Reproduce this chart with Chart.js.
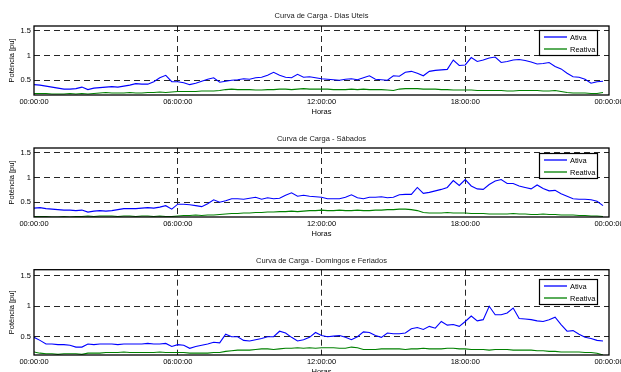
<!DOCTYPE html>
<html><head><meta charset="utf-8">
<script src="https://cdn.jsdelivr.net/npm/chart.js@4.4.1/dist/chart.umd.min.js"></script>
<style>
html,body{margin:0;padding:0;background:#fff;overflow:hidden;width:621px;height:372px;}
canvas{position:absolute;left:0;}
</style></head><body>
<canvas id="c1" width="621" height="120" style="top:0px"></canvas>
<canvas id="c2" width="621" height="122" style="top:120px"></canvas>
<canvas id="c3" width="621" height="135" style="top:245px"></canvas>
<script>
// sampling grid: 15-minute steps, in hours
const hours = Array.from({length: 96}, (_, i) => i / 4);
const xTicks = [0, 6, 12, 18, 24];
const xTickLabels = ['00:00:00', '06:00:00', '12:00:00', '18:00:00', '00:00:00'];
const yTicks = [0.5, 1, 1.5];
const titles = ['Curva de Carga - Dias Uteis', 'Curva de Carga - Sábados', 'Curva de Carga - Domingos e Feriados'];
const seriesNames = ['Ativa', 'Reativa'];
const seriesColors = ['#0000ff', '#008000'];

const ativaUteis = [
0.41,0.40,0.38,0.36,0.34,0.32,0.32,0.33,0.36,0.31,0.34,0.35,
0.36,0.37,0.36,0.38,0.40,0.43,0.42,0.42,0.47,0.55,0.60,0.47,
0.47,0.45,0.41,0.44,0.48,0.52,0.55,0.46,0.48,0.50,0.51,0.53,
0.52,0.55,0.56,0.60,0.66,0.60,0.56,0.55,0.62,0.56,0.57,0.55,
0.53,0.52,0.51,0.50,0.52,0.53,0.51,0.55,0.59,0.52,0.51,0.50,
0.59,0.58,0.66,0.68,0.64,0.59,0.68,0.70,0.71,0.72,0.91,0.80,
0.81,0.96,0.88,0.91,0.95,0.97,0.86,0.88,0.91,0.92,0.90,0.87,
0.83,0.84,0.86,0.78,0.73,0.64,0.57,0.56,0.52,0.44,0.47,0.48];
const reativaUteis = [
0.23,0.23,0.23,0.22,0.22,0.22,0.23,0.22,0.23,0.22,0.23,0.24,
0.25,0.24,0.24,0.24,0.25,0.24,0.24,0.25,0.25,0.26,0.25,0.26,
0.27,0.27,0.27,0.27,0.28,0.28,0.28,0.29,0.31,0.32,0.31,0.31,
0.31,0.30,0.30,0.31,0.31,0.32,0.32,0.31,0.32,0.33,0.32,0.32,
0.32,0.32,0.31,0.31,0.31,0.32,0.31,0.32,0.31,0.31,0.31,0.30,
0.29,0.32,0.33,0.33,0.33,0.32,0.32,0.32,0.31,0.31,0.30,0.30,
0.30,0.30,0.29,0.29,0.29,0.29,0.29,0.28,0.28,0.29,0.29,0.29,
0.29,0.28,0.28,0.29,0.27,0.25,0.24,0.24,0.24,0.23,0.23,0.25];
const ativaSabados = [
0.38,0.39,0.37,0.36,0.35,0.34,0.34,0.33,0.34,0.30,0.32,0.33,
0.32,0.33,0.35,0.37,0.37,0.37,0.38,0.39,0.38,0.40,0.43,0.36,
0.46,0.46,0.45,0.43,0.41,0.47,0.55,0.50,0.53,0.57,0.57,0.56,
0.58,0.60,0.56,0.59,0.57,0.58,0.64,0.69,0.62,0.64,0.62,0.61,
0.60,0.57,0.57,0.57,0.60,0.65,0.59,0.57,0.60,0.60,0.61,0.59,
0.60,0.65,0.66,0.66,0.80,0.68,0.70,0.73,0.76,0.80,0.94,0.84,
0.96,0.83,0.77,0.76,0.86,0.93,0.96,0.88,0.88,0.83,0.80,0.77,
0.85,0.78,0.73,0.74,0.67,0.62,0.57,0.56,0.56,0.55,0.52,0.43];
const reativaSabados = [
0.21,0.21,0.21,0.20,0.20,0.21,0.20,0.21,0.21,0.22,0.21,0.22,
0.22,0.22,0.21,0.22,0.22,0.21,0.22,0.22,0.21,0.22,0.21,0.21,
0.22,0.23,0.23,0.24,0.23,0.24,0.24,0.25,0.26,0.27,0.27,0.28,
0.28,0.29,0.29,0.30,0.30,0.31,0.31,0.32,0.31,0.32,0.33,0.33,
0.34,0.33,0.33,0.34,0.33,0.33,0.34,0.33,0.33,0.34,0.34,0.35,
0.35,0.36,0.36,0.35,0.33,0.29,0.28,0.28,0.28,0.29,0.28,0.28,
0.28,0.27,0.27,0.27,0.26,0.26,0.26,0.26,0.27,0.26,0.26,0.25,
0.25,0.26,0.25,0.25,0.24,0.24,0.24,0.23,0.23,0.22,0.22,0.21];
const ativaDomingos = [
0.49,0.44,0.38,0.38,0.37,0.37,0.36,0.33,0.33,0.38,0.37,0.38,
0.38,0.38,0.37,0.38,0.38,0.38,0.38,0.39,0.38,0.38,0.39,0.34,
0.37,0.36,0.31,0.34,0.36,0.38,0.41,0.40,0.54,0.50,0.50,0.44,
0.43,0.45,0.47,0.50,0.50,0.59,0.56,0.49,0.43,0.45,0.49,0.57,
0.52,0.50,0.51,0.52,0.49,0.45,0.50,0.58,0.57,0.52,0.49,0.56,
0.55,0.55,0.56,0.63,0.65,0.62,0.67,0.64,0.75,0.69,0.70,0.67,
0.75,0.84,0.76,0.78,1.00,0.86,0.86,0.89,0.97,0.80,0.79,0.78,
0.76,0.75,0.78,0.82,0.70,0.59,0.60,0.54,0.49,0.47,0.44,0.43];
const reativaDomingos = [
0.25,0.23,0.22,0.22,0.21,0.22,0.22,0.22,0.21,0.23,0.23,0.23,
0.24,0.24,0.24,0.25,0.24,0.24,0.24,0.24,0.24,0.25,0.24,0.24,
0.24,0.24,0.23,0.23,0.23,0.23,0.24,0.24,0.26,0.27,0.28,0.28,
0.28,0.29,0.30,0.30,0.29,0.30,0.31,0.31,0.32,0.31,0.32,0.31,
0.32,0.32,0.32,0.31,0.31,0.33,0.32,0.29,0.29,0.29,0.30,0.30,
0.30,0.30,0.29,0.30,0.30,0.31,0.30,0.30,0.30,0.31,0.31,0.30,
0.30,0.29,0.29,0.29,0.28,0.29,0.29,0.29,0.28,0.28,0.28,0.28,
0.27,0.27,0.26,0.26,0.25,0.25,0.25,0.25,0.24,0.24,0.23,0.20];

const panels = [
  {id: 'c1', title: titles[0], a: ativaUteis, r: reativaUteis, tp: {top: 11.5, bottom: 5.5}, legTop: 4},
  {id: 'c2', title: titles[1], a: ativaSabados, r: reativaSabados, tp: {top: 14.8, bottom: 4.2}, legTop: 5},
  {id: 'c3', title: titles[2], a: ativaDomingos, r: reativaDomingos, tp: {top: 11.2, bottom: 4.5}, legTop: 9}
];

const FONT = {family: '"Liberation Sans", Arial, sans-serif', size: 7.5, weight: 'normal', lineHeight: 1.2};
const GRID = '#262626';
const DASH = [6, 4];

const framePlugin = {
  id: 'frame',
  afterDraw(chart) {
    const {ctx, chartArea: a} = chart;
    ctx.save();
    ctx.strokeStyle = '#000';
    ctx.lineWidth = 1.3;
    ctx.setLineDash([]);
    ctx.strokeRect(a.left, a.top, a.right - a.left, a.bottom - a.top);
    ctx.restore();
  }
};

const boxLegend = {
  id: 'boxLegend',
  afterDraw(chart, args, opts) {
    const {ctx, chartArea: a} = chart;
    const w = 58, h = 25;
    const x = Math.round(a.right - 12 - w), y = Math.round(a.top + opts.top);
    ctx.save();
    ctx.setLineDash([]);
    ctx.fillStyle = '#ffffff';
    ctx.fillRect(x, y, w, h);
    ctx.strokeStyle = '#000000';
    ctx.lineWidth = 1.2;
    ctx.strokeRect(x + 0.5, y + 0.5, w, h);
    ctx.font = FONT.size + 'px ' + FONT.family;
    ctx.textBaseline = 'middle';
    ctx.textAlign = 'left';
    chart.data.datasets.forEach((ds, i) => {
      const cy = y + 7 + i * 12;
      ctx.beginPath();
      ctx.strokeStyle = seriesColors[i];
      ctx.lineWidth = 1.3;
      ctx.moveTo(x + 5, cy);
      ctx.lineTo(x + 28, cy);
      ctx.stroke();
      ctx.fillStyle = '#000000';
      ctx.fillText(ds.label, x + 31, cy + 0.5);
    });
    ctx.restore();
  }
};

panels.forEach(p => {
  new Chart(document.getElementById(p.id), {
    type: 'line',
    data: {
      datasets: [
        {label: seriesNames[0], data: hours.map((h, i) => ({x: h, y: p.a[i]})), borderColor: seriesColors[0], borderWidth: 1.1, pointRadius: 0, tension: 0, fill: false},
        {label: seriesNames[1], data: hours.map((h, i) => ({x: h, y: p.r[i]})), borderColor: seriesColors[1], borderWidth: 1.1, pointRadius: 0, tension: 0, fill: false}
      ]
    },
    options: {
      responsive: false,
      animation: false,
      events: [],
      layout: {autoPadding: false, padding: {left: 0, right: 12, top: 0, bottom: 0}},
      plugins: {
        legend: {display: false},
        tooltip: {enabled: false},
        title: {display: true, text: p.title, fullSize: false, color: '#1a1a1a', font: FONT, padding: p.tp},
        boxLegend: {top: p.legTop}
      },
      scales: {
        x: {
          type: 'linear', min: 0, max: 24,
          afterBuildTicks: s => { s.ticks = xTicks.map(v => ({value: v})); },
          afterFit: s => { s.height = 25; s.paddingLeft = 0; s.paddingRight = 0; },
          ticks: {callback: (v, i) => xTickLabels[i], maxRotation: 0, autoSkip: false, padding: 2.5, color: '#000', font: FONT},
          grid: {drawTicks: false, lineWidth: 1, color: c => (c.tick && (c.tick.value === 0 || c.tick.value === 24)) ? 'rgba(0,0,0,0)' : GRID},
          border: {display: false, dash: DASH},
          title: {display: true, text: 'Horas', color: '#000', font: FONT, padding: {top: 0, bottom: 3.5}}
        },
        y: {
          min: 0.2, max: 1.6,
          afterBuildTicks: s => { s.ticks = yTicks.map(v => ({value: v})); },
          afterFit: s => { s.width = 34; s.paddingTop = 0; s.paddingBottom = 0; },
          ticks: {callback: v => String(v), padding: 3, color: '#000', font: FONT},
          grid: {drawTicks: false, lineWidth: 1, color: GRID},
          border: {display: false, dash: DASH},
          title: {display: true, text: 'Potência [pu]', color: '#000', font: FONT, padding: {top: 7.5, bottom: 0}}
        }
      }
    },
    plugins: [framePlugin, boxLegend]
  });
});
</script>
</body></html>
